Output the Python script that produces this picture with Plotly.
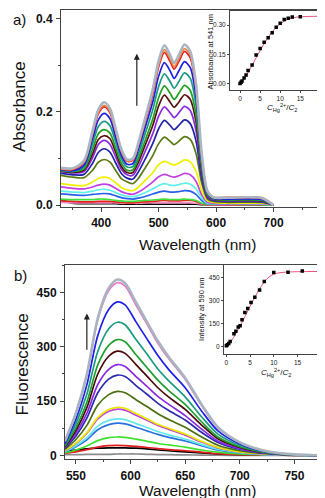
import plotly.graph_objects as go

FONT = "Liberation Sans, Arial, sans-serif"

# ---------------- Panel a: absorbance spectra ----------------
wl_a = [330, 350, 370, 385, 395, 405, 415, 425, 435, 445, 455, 465, 475, 490, 500,
        510, 520, 527, 535, 545, 555, 565, 575, 585, 595, 620, 680, 700]

abs_gray = [.080, .079, .095, .160, .205, .221, .208, .165, .120, .098, .100, .135, .180, .250, .310, .343, .322, .305, .322, .345, .330, .260, .110, .030, .017, .016, .015, .000]
abs_orange = [.078, .077, .093, .156, .199, .214, .202, .160, .117, .095, .097, .131, .175, .243, .302, .334, .314, .297, .314, .336, .322, .253, .107, .029, .017, .017, .016, .000]
abs_red = [.077, .076, .091, .153, .196, .211, .199, .158, .115, .094, .096, .129, .172, .239, .297, .328, .308, .292, .308, .330, .316, .249, .105, .029, .016, .015, .014, .000]
abs_blue = [.076, .074, .086, .143, .183, .197, .186, .147, .107, .088, .089, .121, .161, .223, .277, .306, .288, .272, .288, .308, .295, .232, .098, .027, .015, .013, .012, .000]
abs_teal = [.074, .072, .082, .132, .169, .180, .171, .136, .099, .082, .083, .111, .148, .206, .255, .282, .265, .251, .265, .284, .272, .214, .091, .025, .014, .012, .011, .000]
abs_green = [.075, .072, .078, .120, .153, .162, .155, .123, .090, .075, .076, .101, .134, .186, .231, .256, .240, .227, .240, .257, .246, .194, .082, .022, .013, .011, .010, .000]
abs_maroon = [.073, .070, .075, .110, .141, .149, .143, .114, .083, .070, .070, .093, .124, .172, .213, .236, .221, .210, .221, .237, .227, .179, .076, .021, .012, .010, .009, .000]
abs_purple = [.072, .069, .072, .102, .130, .139, .131, .104, .077, .065, .064, .083, .111, .154, .191, .211, .198, .188, .198, .212, .203, .160, .068, .018, .011, .009, .008, .000]
abs_navy = [.068, .065, .066, .090, .113, .121, .114, .091, .068, .058, .056, .072, .095, .133, .164, .182, .171, .162, .171, .183, .175, .138, .058, .016, .010, .008, .007, .000]
abs_olive = [.064, .060, .059, .075, .092, .098, .093, .075, .057, .050, .046, .058, .077, .107, .132, .146, .137, .130, .137, .147, .141, .111, .047, .013, .008, .006, .006, .000]
abs_yellow = [.046, .043, .042, .050, .057, .060, .057, .048, .038, .033, .031, .039, .051, .070, .087, .094, .089, .086, .090, .097, .093, .073, .031, .009, .006, .004, .004, .000]
abs_magenta = [.039, .036, .035, .039, .043, .045, .043, .036, .029, .025, .023, .028, .036, .050, .061, .066, .062, .060, .063, .068, .065, .051, .022, .006, .004, .003, .003, .000]
abs_cyan = [.030, .028, .027, .030, .033, .034, .032, .027, .022, .019, .018, .021, .026, .035, .042, .046, .043, .042, .044, .047, .045, .035, .015, .004, .003, .003, .002, .000]
abs_blue2 = [.024, .022, .021, .023, .024, .025, .024, .020, .016, .014, .013, .015, .018, .024, .028, .030, .028, .028, .029, .031, .030, .023, .010, .003, .003, .002, .002, .000]
abs_lime = [.013, .012, .012, .012, .013, .013, .012, .010, .009, .008, .008, .009, .010, .011, .012, .013, .012, .012, .012, .013, .012, .010, .004, .002, .002, .002, .001, .000]
abs_red2 = [.009, .008, .007, .007, .008, .008, .008, .007, .006, .005, .005, .006, .007, .008, .009, .010, .009, .009, .009, .010, .010, .008, .003, .001, .001, .001, .001, .000]
abs_pink = [.006, .005, .005, .005, .005, .005, .005, .005, .004, .004, .004, .004, .005, .005, .005, .005, .005, .005, .005, .005, .005, .004, .002, .001, .001, .001, .001, .000]
abs_black = [.012, .004, .003, .003, .003, .003, .003, .003, .002, .002, .002, .002, .002, .002, .002, .002, .002, .002, .002, .002, .002, .002, .001, .001, .001, .001, .000, .000]

series_a = [
    (abs_black, "#000000"), (abs_pink, "#f090c0"), (abs_red2, "#e82020"), (abs_lime, "#40e040"),
    (abs_blue2, "#2860e8"), (abs_cyan, "#5ff0e8"), (abs_magenta, "#c040e0"), (abs_yellow, "#f0f000"),
    (abs_olive, "#5a7a12"), (abs_navy, "#2323a8"), (abs_purple, "#8a2be2"), (abs_maroon, "#5a0f0f"),
    (abs_green, "#1f9f1f"), (abs_teal, "#1a9a80"), (abs_blue, "#1f1fe0"), (abs_red, "#e02020"),
    (abs_orange, "#f08040"), (abs_gray, "#aab6c6"),
]

# inset a
ratio_a = [0, 0.25, 0.5, 1, 1.5, 2, 3, 4, 5, 6, 7, 8, 9, 10, 11, 12, 13, 15, 20]
abs541 = [0.002, 0.008, 0.015, 0.030, 0.045, 0.068, 0.097, 0.148, 0.181, 0.213, 0.236, 0.261, 0.289, 0.309, 0.328, 0.335, 0.341, 0.342, 0.340]
fit_x_a = [0, 1, 2, 3, 4, 5, 6, 7, 8, 9, 10, 11, 12, 13, 14, 15, 17, 20]
fit_y_a = [0.0, 0.025, 0.058, 0.095, 0.133, 0.170, 0.205, 0.237, 0.265, 0.288, 0.306, 0.320, 0.330, 0.336, 0.340, 0.342, 0.344, 0.345]

# ---------------- Panel b: fluorescence spectra ----------------
wl_b = [540, 550, 560, 570, 580, 588, 595, 605, 615, 625, 635, 650, 665, 680, 700, 720, 740, 760, 778]

fl_gray = [39, 117, 224, 379, 462, 486, 476, 423, 369, 316, 272, 214, 141, 78, 36, 15, 5, 1.5, 0]
fl_pink = [42, 118, 222, 375, 455, 477, 468, 415, 363, 310, 267, 210, 138, 76, 36, 14, 5, 1.4, 0]
fl_blue = [32, 100, 195, 331, 403, 424, 416, 369, 322, 276, 237, 187, 123, 68, 32, 13, 4, 1, 0]
fl_teal = [29, 88, 169, 287, 350, 368, 361, 320, 280, 239, 206, 162, 107, 59, 28, 11, 4, 1, 0]
fl_green = [26, 77, 147, 250, 304, 320, 314, 278, 243, 208, 179, 141, 93, 51, 24, 10, 3, 1, 0]
fl_maroon = [24, 69, 132, 225, 274, 288, 282, 251, 219, 187, 161, 127, 84, 46, 22, 9, 3, 1, 0]
fl_purple = [22, 61, 116, 196, 238, 251, 246, 218, 191, 163, 141, 110, 73, 40, 19, 8, 3, 1, 0]
fl_navy = [20, 54, 103, 173, 211, 222, 218, 193, 169, 144, 124, 98, 64, 36, 17, 7, 2, 1, 0]
fl_olive = [17, 44, 83, 139, 168, 177, 173, 154, 135, 115, 99, 78, 51, 28, 13, 6, 2, 1, 0]
fl_yellow = [14, 34, 63, 105, 127, 133, 130, 116, 101, 86, 75, 59, 39, 22, 10, 5, 2, 0.5, 0]
fl_magenta = [13, 33, 61, 101, 122, 128, 125, 111, 97, 83, 72, 56, 37, 21, 10, 4, 1.5, 0.5, 0]
fl_cyan = [11, 27, 49, 81, 97, 101, 99, 88, 77, 66, 57, 45, 30, 17, 8, 3, 1, 0.3, 0]
fl_blue2 = [10, 24, 43, 71, 85, 89, 87, 78, 68, 58, 50, 40, 27, 15, 7, 3, 1, 0.3, 0]
fl_lime = [7, 15, 26, 41, 49, 51, 50, 45, 39, 33, 29, 23, 15, 9, 4, 2, 1, 0.2, 0]
fl_red = [6, 10, 16, 23, 27, 28, 27, 25, 22, 19, 16, 13, 9, 5, 2.5, 1, 0.5, 0, 0]
fl_black = [12, 15, 18, 20, 21, 21, 21, 20, 18, 15, 13, 10, 7, 4, 2, 1, 0.5, 0, 0]
fl_gray2 = [2, 2, 3, 3, 3, 4, 4, 4, 3, 2.5, 2, 1.5, 1, 0.5, 0.3, 0, 0, 0, 0]

series_b = [
    (fl_gray2, "#8a8a8a"), (fl_black, "#000000"), (fl_red, "#e02020"), (fl_lime, "#40e030"),
    (fl_blue2, "#2a70e0"), (fl_cyan, "#60e8e8"), (fl_magenta, "#c040e0"), (fl_yellow, "#e8e800"),
    (fl_olive, "#4a7010"), (fl_navy, "#2a2ab0"), (fl_purple, "#8a2be2"), (fl_maroon, "#4a0a0a"),
    (fl_green, "#1f9f2f"), (fl_teal, "#1a9a80"), (fl_blue, "#1f1fe8"), (fl_pink, "#e879c8"),
    (fl_gray, "#aab3c0"),
]

ratio_b = [0, 0.2, 0.5, 0.8, 1.6, 2, 2.5, 2.9, 3.3, 3.9, 4.5, 5.2, 6, 7, 8, 10, 13, 16, 20]
int590 = [5, 12, 20, 34, 84, 100, 127, 136, 174, 221, 247, 287, 320, 367, 423, 481, 483, 491, 490]
fit_x_b = [0, 1, 2, 3, 4, 5, 6, 7, 8, 9, 10, 11, 12, 13, 15, 20]
fit_y_b = [0, 35, 85, 140, 200, 262, 320, 375, 420, 452, 470, 478, 482, 484, 486, 488]

fig = go.Figure()

for ys, c in series_a:
    w = 2.6 if c == "#aab6c6" else 1.7
    fig.add_trace(go.Scatter(x=wl_a, y=ys, mode="lines", line=dict(color=c, width=w, shape="spline", smoothing=0.8),
                             xaxis="x", yaxis="y", showlegend=False, hoverinfo="skip"))
fig.add_trace(go.Scatter(x=fit_x_a, y=fit_y_a, mode="lines", line=dict(color="#e8507a", width=1, shape="spline"),
                         xaxis="x2", yaxis="y2", showlegend=False))
fig.add_trace(go.Scatter(x=ratio_a, y=abs541, mode="markers", marker=dict(symbol="square", size=3.5, color="#000"),
                         xaxis="x2", yaxis="y2", showlegend=False))

for ys, c in series_b:
    w = 2.6 if c == "#aab3c0" else 1.7
    fig.add_trace(go.Scatter(x=wl_b, y=ys, mode="lines", line=dict(color=c, width=w, shape="spline", smoothing=0.8),
                             xaxis="x3", yaxis="y3", showlegend=False, hoverinfo="skip"))
fig.add_trace(go.Scatter(x=fit_x_b, y=fit_y_b, mode="lines", line=dict(color="#e8507a", width=1, shape="spline"),
                         xaxis="x4", yaxis="y4", showlegend=False))
fig.add_trace(go.Scatter(x=ratio_b, y=int590, mode="markers", marker=dict(symbol="square", size=3.5, color="#000"),
                         xaxis="x4", yaxis="y4", showlegend=False))

AX = "#444444"
main_tick_font = dict(family=FONT, size=12, color="#111", weight="bold")
inset_tick_font = dict(family=FONT, size=6.5, color="#222")

def main_axis(**kw):
    d = dict(showline=True, linecolor=AX, linewidth=1, mirror=True, ticks="outside", ticklen=4,
             tickcolor=AX, showgrid=False, zeroline=False, tickfont=main_tick_font, ticklabelstandoff=1)
    d.update(kw)
    return d

def inset_axis(**kw):
    d = dict(showline=True, linecolor=AX, linewidth=1, mirror=True, ticks="outside", ticklen=2,
             tickcolor=AX, showgrid=False, zeroline=False, tickfont=inset_tick_font, ticklabelstandoff=0)
    d.update(kw)
    return d

W, H = 325, 498
def px(x):
    return x / W
def py(y):
    return 1 - y / H

fig.update_layout(
    width=W, height=H, margin=dict(l=0, r=0, t=0, b=0),
    paper_bgcolor="white", plot_bgcolor="white",
    xaxis=main_axis(domain=[px(53), px(323)], range=[330, 800], tickvals=[400, 500, 600, 700],
                    minor=dict(dtick=50, tick0=350, ticks="outside", ticklen=2, tickcolor=AX), anchor="y"),
    yaxis=main_axis(domain=[py(201), py(2)], range=[-0.004, 0.419], tickvals=[0, 0.2, 0.4],
                    ticktext=["0.0", "0.2", "0.4"],
                    minor=dict(dtick=0.1, tick0=0, ticks="outside", ticklen=2, tickcolor=AX), anchor="x"),
    xaxis2=inset_axis(domain=[px(222), px(322)], range=[-2.5, 22.4], tickvals=[0, 5, 10, 15, 20], anchor="y2"),
    yaxis2=inset_axis(domain=[py(83), py(3)], range=[-0.032, 0.372], tickvals=[0, 0.15, 0.30],
                      ticktext=["0.00", "0.15", "0.30"], anchor="x2"),
    xaxis3=main_axis(domain=[px(57), px(317)], range=[540, 778], tickvals=[550, 600, 650, 700, 750],
                     minor=dict(dtick=25, tick0=550, ticks="outside", ticklen=2, tickcolor=AX), anchor="y3"),
    yaxis3=main_axis(domain=[py(456), py(260)], range=[-11, 525], tickvals=[0, 150, 300, 450],
                     minor=dict(dtick=75, tick0=0, ticks="outside", ticklen=2, tickcolor=AX), anchor="x3"),
    xaxis4=inset_axis(domain=[px(216), px(317)], range=[-0.5, 20.8], tickvals=[0, 5, 10, 15, 20], anchor="y4"),
    yaxis4=inset_axis(domain=[py(350), py(260)], range=[-51, 527], tickvals=[0, 150, 300, 450], anchor="x4"),
)

ann = []
def txt(x, y, s, size, angle=0):
    ann.append(dict(x=px(x), y=py(y), xref="paper", yref="paper", text=s, showarrow=False,
                    textangle=angle, font=dict(family=FONT, size=size, color="#111"),
                    xanchor="center", yanchor="middle"))

txt(11, 12, "a)", 15)
txt(12, 100, "Absorbance", 17, -90)
txt(189, 239, "Wavelength (nm)", 15.5)
txt(203, 45, "Absorbance at 541 nm", 7.5, -90)
txt(274, 101, "<i>C</i><sub>Hg</sub><sup>2+</sup>/<i>C</i><sub>2</sub>", 8)

txt(12, 270, "b)", 15)
txt(14, 360, "Fluorescence", 17, -90)
txt(189, 487, "Wavelength (nm)", 15.5)
txt(194, 305, "Intensity at 590 nm", 7.5, -90)
txt(268, 368, "<i>C</i><sub>Hg</sub><sup>2+</sup>/<i>C</i><sub>2</sub>", 8)

# arrows
ann.append(dict(x=462, y=0.325, ax=462, ay=0.21, xref="x", yref="y", axref="x", ayref="y", text="",
                showarrow=True, arrowhead=2, arrowsize=1, arrowwidth=1.2, arrowcolor="#222"))
ann.append(dict(x=560, y=392, ax=560, ay=288, xref="x3", yref="y3", axref="x3", ayref="y3", text="",
                showarrow=True, arrowhead=2, arrowsize=1, arrowwidth=1.2, arrowcolor="#222"))

fig.update_layout(annotations=ann)
fig.write_html("out.html")
